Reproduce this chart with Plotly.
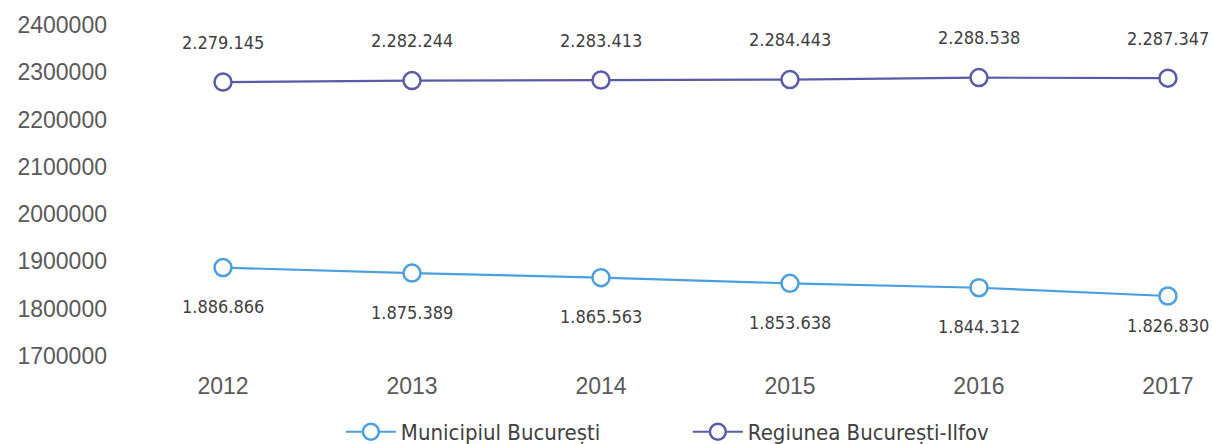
import plotly.graph_objects as go

years = ["2012", "2013", "2014", "2015", "2016", "2017"]
municipiul = [1886866, 1875389, 1865563, 1853638, 1844312, 1826830]
regiunea = [2279145, 2282244, 2283413, 2284443, 2288538, 2287347]
y_ticks = [1700000, 1800000, 1900000, 2000000, 2100000, 2200000, 2300000, 2400000]

c_mun = "#4A9FE0"
c_reg = "#5A5AA8"
narrow = "DejaVu Sans Condensed, Liberation Sans Narrow, sans-serif"
label_font = dict(family=narrow, size=18, color="#404040")


def fmt(v):
    return f"{v:,}".replace(",", ".")


fig = go.Figure()
fig.add_trace(go.Scatter(
    x=years, y=municipiul, name="Municipiul București", mode="lines+markers",
    line=dict(color=c_mun, width=2.2),
    marker=dict(symbol="circle", size=17, color="white", line=dict(color=c_mun, width=2.5)),
    cliponaxis=False,
))
fig.add_trace(go.Scatter(
    x=years, y=regiunea, name="Regiunea București-Ilfov", mode="lines+markers",
    line=dict(color=c_reg, width=2.2),
    marker=dict(symbol="circle", size=17, color="white", line=dict(color=c_reg, width=2.5)),
    cliponaxis=False,
))

for i, v in enumerate(regiunea):
    fig.add_annotation(x=i, y=v, xref="x", yref="y", text=fmt(v), showarrow=False,
                       yshift=40, font=label_font)
for i, v in enumerate(municipiul):
    fig.add_annotation(x=i, y=v, xref="x", yref="y", text=fmt(v), showarrow=False,
                       yshift=-39 if i < len(municipiul) - 1 else -29, font=label_font)

fig.update_layout(
    width=1213, height=444,
    margin=dict(l=120, r=5, t=18, b=74, autoexpand=False),
    paper_bgcolor="white", plot_bgcolor="white",
    showlegend=True,
    legend=dict(orientation="h", x=0.203, xanchor="left", y=-0.176, yanchor="middle",
                font=dict(family=narrow, size=22, color="#404040"),
                itemwidth=50, entrywidth=282),
)
fig.update_xaxes(type="category", range=[-0.545, 5.212], showgrid=False, zeroline=False,
                 showline=False, ticks="", automargin=False,
                 tickfont=dict(family="Liberation Sans, Arial, sans-serif", size=23, color="#595959"))
fig.update_yaxes(range=[1670400, 2414586], tickvals=y_ticks, ticktext=[str(t) for t in y_ticks],
                 showgrid=False, zeroline=False, showline=False, ticks="", automargin=False,
                 ticklabelstandoff=12,
                 tickfont=dict(family="Liberation Sans, Arial, sans-serif", size=23, color="#595959"))

fig.write_html(
    "out.html",
    config={"displayModeBar": False},
    post_script="document.body.style.margin='0px';document.body.style.overflow='hidden';",
)
